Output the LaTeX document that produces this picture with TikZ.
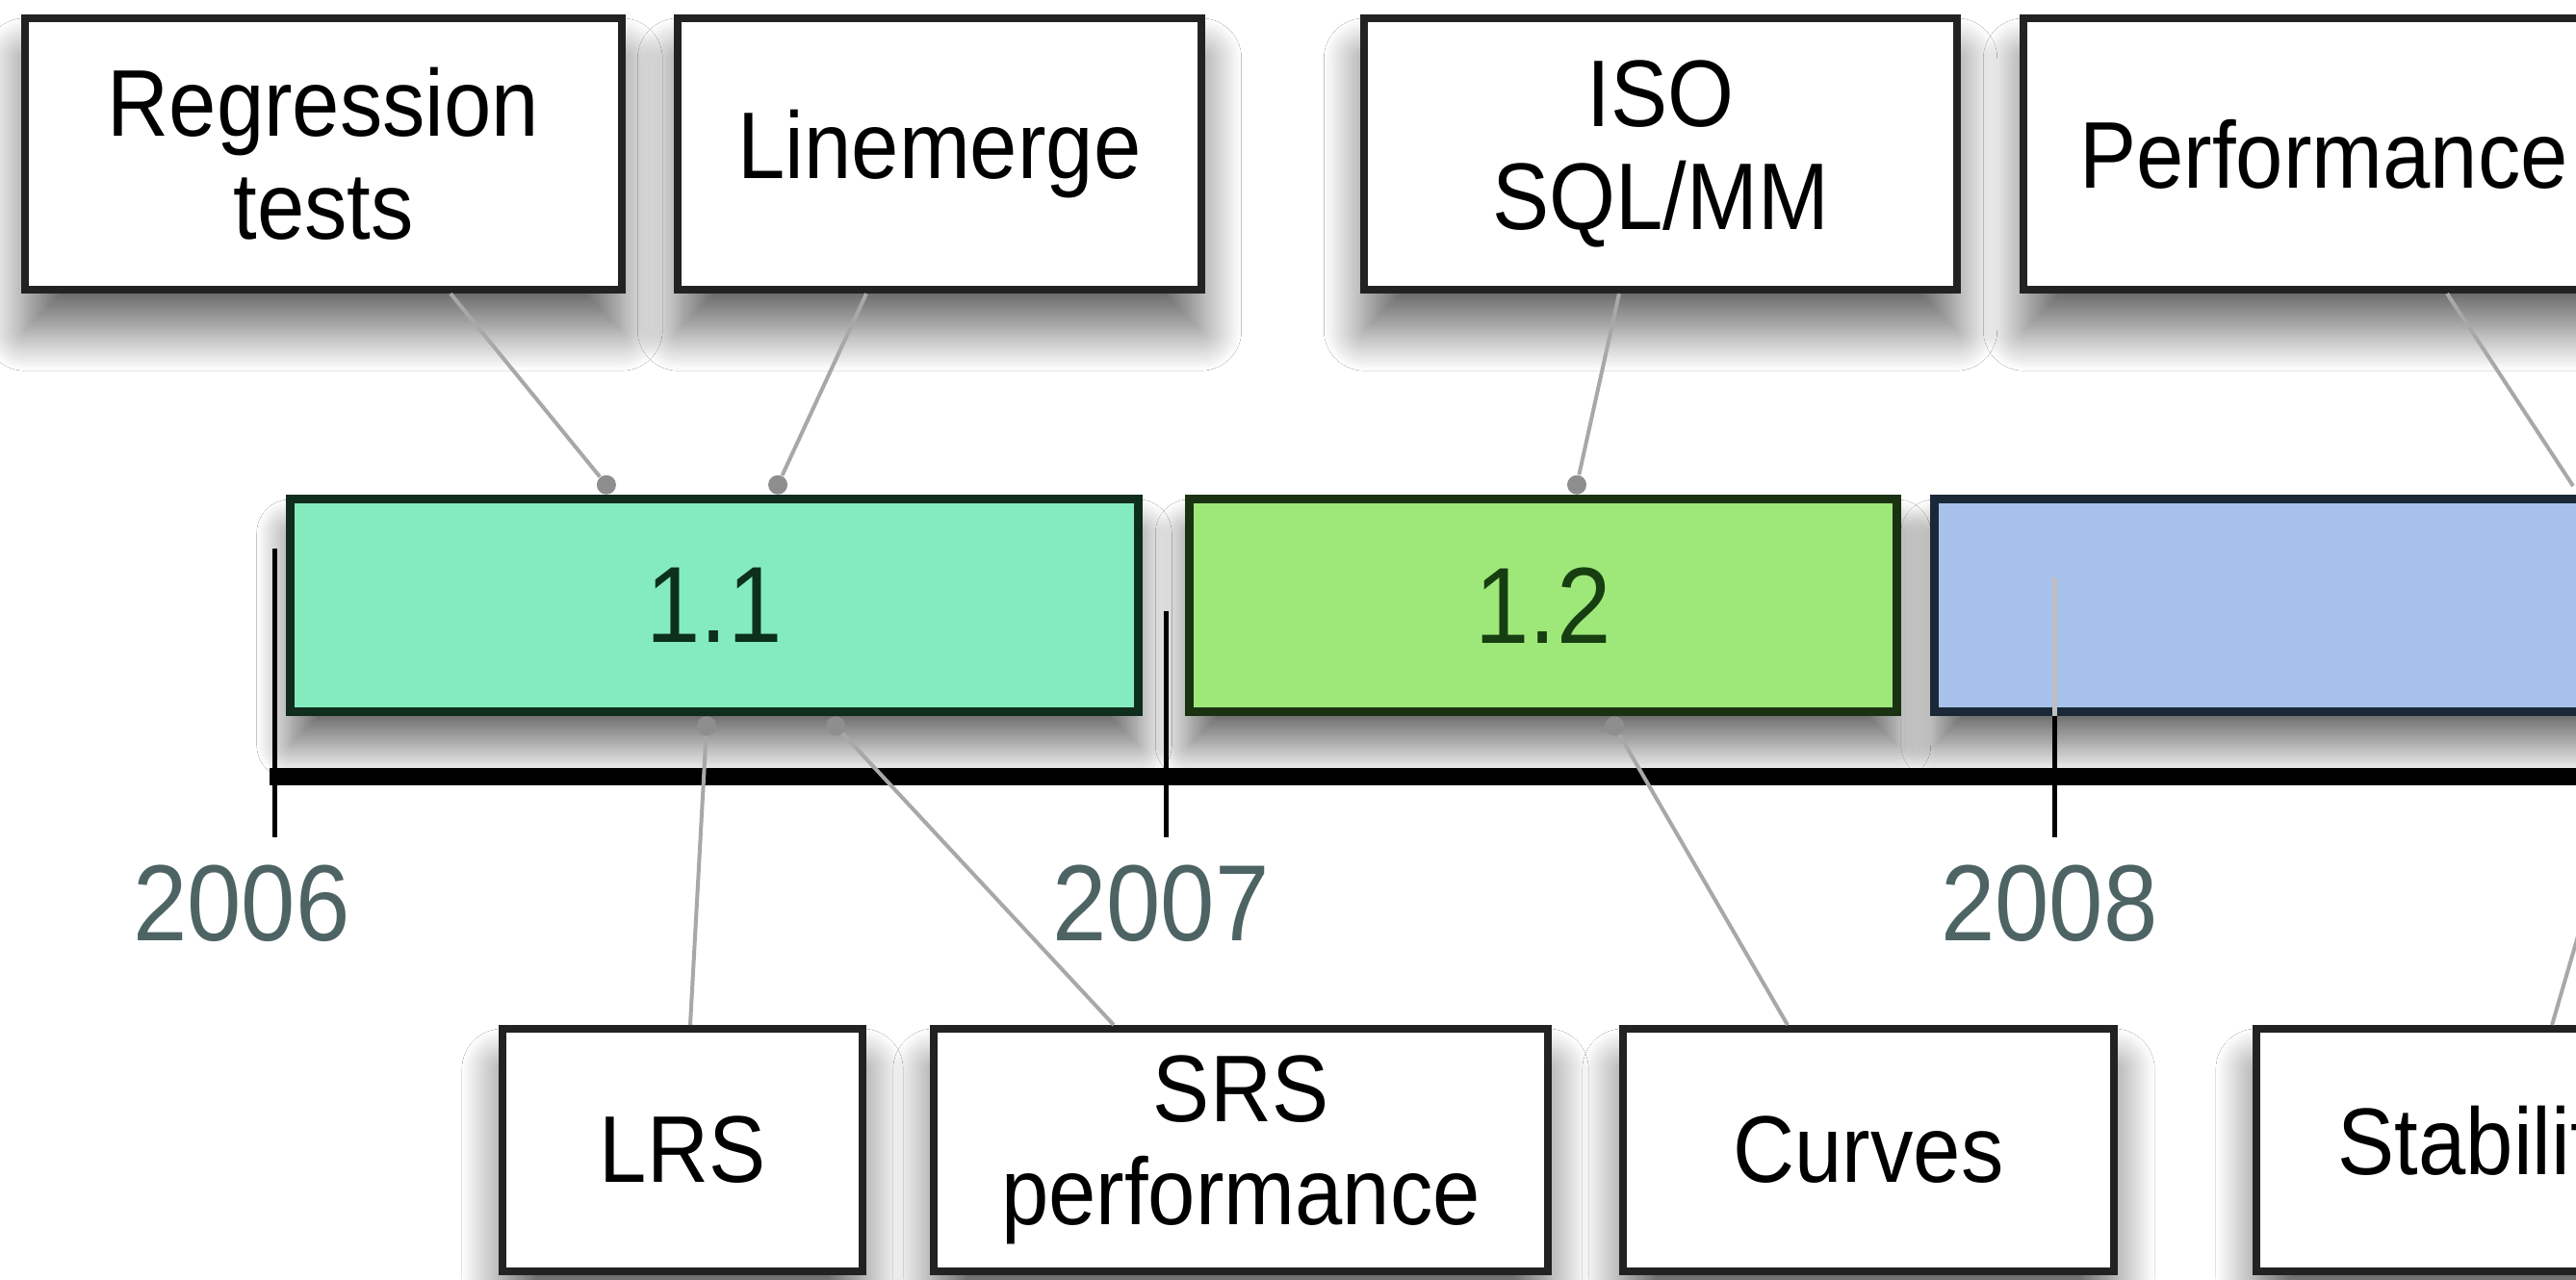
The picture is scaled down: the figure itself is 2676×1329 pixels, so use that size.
\documentclass[tikz,border=0pt]{standalone}
\usepackage{fontspec}
\setmainfont[FakeStretch=0.9]{Liberation Sans}
\usepackage{xcolor}
\usetikzlibrary{positioning,shadows.blur}

\definecolor{relA}{HTML}{84EBBE}
\definecolor{relAline}{HTML}{0F2C1C}
\definecolor{relAtext}{HTML}{0C301C}
\definecolor{relB}{HTML}{9EE87A}
\definecolor{relBline}{HTML}{1A3212}
\definecolor{relBtext}{HTML}{173E10}
\definecolor{relC}{HTML}{A6C2EA}
\definecolor{relCline}{HTML}{1A2838}
\definecolor{boxline}{HTML}{222222}
\definecolor{linkgray}{HTML}{A8A8A8}
\definecolor{dotgray}{HTML}{8E8E8E}
\definecolor{yeargray}{HTML}{4E6464}

\begin{document}
\begin{tikzpicture}[x=0.01cm,y=-0.01cm,
    note/.style={rectangle,draw=boxline,line width=0.08cm,fill=white,
                 align=center,inner sep=0pt,font=\fontsize{28}{30.4}\selectfont,
                 blur shadow={shadow xshift=0cm,shadow yshift=-0.42cm,
                              shadow blur radius=0.42cm,shadow blur steps=24,
                              shadow opacity=60}},
    release/.style={rectangle,line width=0.09cm,minimum height=2.2cm,inner sep=0pt,
                 font=\fontsize{32}{36}\selectfont,
                 blur shadow={shadow xshift=0cm,shadow yshift=-0.35cm,
                              shadow blur radius=0.35cm,shadow blur steps=24,
                              shadow opacity=60}},
    link/.style={draw=linkgray,line width=0.04cm},
    pindot/.style={circle,fill=dotgray,inner sep=0pt,minimum size=0.2cm},
    tick/.style={line width=0.05cm,line cap=butt},
    axis/.style={line width=0.18cm},
    year/.style={text=yeargray,font=\fontsize{32}{36}\selectfont}]
\useasboundingbox (0,0) rectangle (2676,1329);
\clip (0,0) rectangle (2676,1329);
\fill[white] (0,0) rectangle (2676,1329);

% features above the releases
\node[note,minimum width=6.2cm,minimum height=2.82cm] (reg) at (336,160) {Regression\\tests};
\node[note,minimum width=5.43cm,minimum height=2.82cm] (lmerge) at (976,160) {Linemerge};
\node[note,minimum width=6.15cm,minimum height=2.82cm] (iso) at (1725,160) {ISO\\SQL/MM};
\node[note,minimum width=6.23cm,minimum height=2.82cm] (perf) at (2414,160) {Performance};

% time axis
\draw[tick] (285,570) -- (285,870);
\draw[tick] (1211,635) -- (1211,870);
\draw[axis] (280,807) -- (2700,807);

% releases
\node[release,fill=relA,draw=relAline,text=relAtext,minimum width=8.8cm] (v11) at (742,629) {1.1};
\node[release,fill=relB,draw=relBline,text=relBtext,minimum width=7.35cm] (v12) at (1603,629) {1.2};
\node[release,fill=relC,draw=relCline,minimum width=8cm] (v13) at (2410,629) {};
\draw[tick,black!25] (2134,600) -- (v13.south -| 2134,0);
\draw[tick] (v13.south -| 2134,0) -- (2134,870);

\node[year] (y06) at (251,939) {2006};
\node[year] (y07) at (1206,939) {2007};
\node[year] (y08) at (2129,939) {2008};

% features below the releases
\node[note,minimum width=3.74cm,minimum height=2.52cm] (lrs) at (709,1195) {LRS};
\node[note,minimum width=6.38cm,minimum height=2.52cm] (srs) at (1289,1195) {SRS\\performance};
\node[note,minimum width=5.1cm,minimum height=2.52cm] (curves) at (1941,1195) {Curves};
\node[note,minimum width=4.8cm,minimum height=2.52cm] (stab) at (2584,1195) {Stability};

% pins on the releases
\node[pindot,anchor=south] (p1) at ([xshift=-1.12cm]v11.north) {};
\node[pindot,anchor=south] (p2) at ([xshift=0.66cm]v11.north) {};
\node[pindot,anchor=north] (p3) at ([xshift=-0.08cm]v11.south) {};
\node[pindot,anchor=north] (p4) at ([xshift=1.26cm]v11.south) {};
\node[pindot,anchor=south] (p5) at ([xshift=0.35cm]v12.north) {};
\node[pindot,anchor=north] (p6) at ([xshift=0.74cm]v12.south) {};
\coordinate (p7) at (2673,505);
\coordinate (p8) at (2741,757);

\draw[link] ([xshift=1.32cm]reg.south) -- (p1);
\draw[link] ([xshift=-0.76cm]lmerge.south) -- (p2);
\draw[link] ([xshift=-0.43cm]iso.south) -- (p5);
\draw[link] ([xshift=1.28cm]perf.south) -- (p7);
\draw[link] (p3) -- ([xshift=0.08cm]lrs.north);
\draw[link] (p4) -- ([xshift=-1.32cm]srs.north);
\draw[link] (p6) -- ([xshift=-0.84cm]curves.north);
\draw[link] (p8) -- ([xshift=0.67cm]stab.north);
\end{tikzpicture}
\end{document}
